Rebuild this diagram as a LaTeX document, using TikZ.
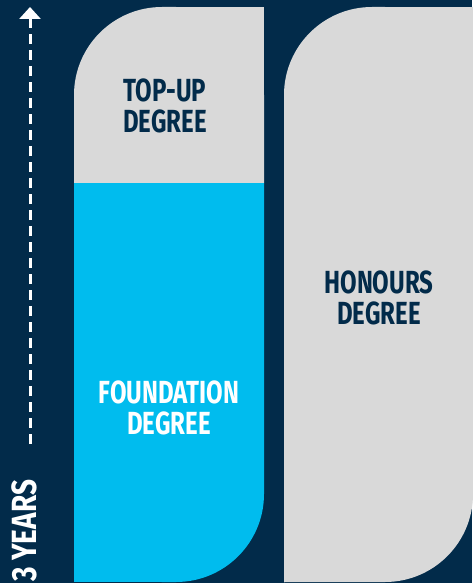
\documentclass[tikz,border=0pt]{standalone}
\usepackage{fontspec}
\newfontfamily\degreefont{Fira Sans}[FakeStretch=0.75]
\newfontfamily\yearsfont{Fira Sans}[FakeStretch=0.8]
\usetikzlibrary{arrows.meta,positioning}
\definecolor{navy}{HTML}{022B4A}
\definecolor{skyblue}{HTML}{00BCEE}
\definecolor{lightgrey}{HTML}{D9D9D9}

\begin{document}
\begin{tikzpicture}[
    x=1pt, y=-1pt,
    degree/.style={
        font=\degreefont\bfseries\fontsize{32}{32}\selectfont,
        inner sep=0pt
    },
    block/.style={
        rounded corners=88pt
    },
    % Gap between the two lines of a label
    node distance=7pt
]

    % Background and frame of the picture
    \fill[navy] (0,0) rectangle (472,583);
    \useasboundingbox (0,0) rectangle (472,583);

    % Left column: top-up part (grey)
    \fill[lightgrey, block] (74,183) -- (74,7) -- (264,7) -- (264,183);
    \fill[lightgrey] (176,7) rectangle (264,183);

    % Left column: foundation part (blue)
    \fill[skyblue, block] (74,183) -- (74,582) -- (264,582) -- (264,183);
    \fill[skyblue] (74,400) rectangle (176,582);

    % Right column: honours degree
    \fill[lightgrey, block] (284,583) -- (284,7) -- (473,7) -- (473,582) -- (284,582);
    \fill[lightgrey] (385,7) rectangle (473,300);

    % Labels of the three degrees
    \node[degree, text=navy, anchor=north] (topup) at (165,79) {TOP-UP};
    \node[degree, text=navy, below=of topup] (topupdegree) {DEGREE};

    \node[degree, text=white, anchor=north] (foundation) at (169,381) {FOUNDATION};
    \node[degree, text=white, below=of foundation] (foundationdegree) {DEGREE};

    \node[degree, text=navy, anchor=north] (honours) at (379,271) {HONOURS};
    \node[degree, text=navy, below=of honours] (honoursdegree) {DEGREE};

    % Time axis on the left
    \node[font=\yearsfont\bfseries\fontsize{35}{35}\selectfont, text=white,
          rotate=90, anchor=south west, inner sep=0pt] (years) at (37,582) {3 YEARS};
    \coordinate (axistop) at (30,7);
    \coordinate (axisbottom) at (30,444);
    \draw[white, line width=3pt, dash pattern=on 10pt off 6pt,
          -{Triangle[width=21pt,length=12pt]}] (axisbottom) -- (axistop);

\end{tikzpicture}
\end{document}
